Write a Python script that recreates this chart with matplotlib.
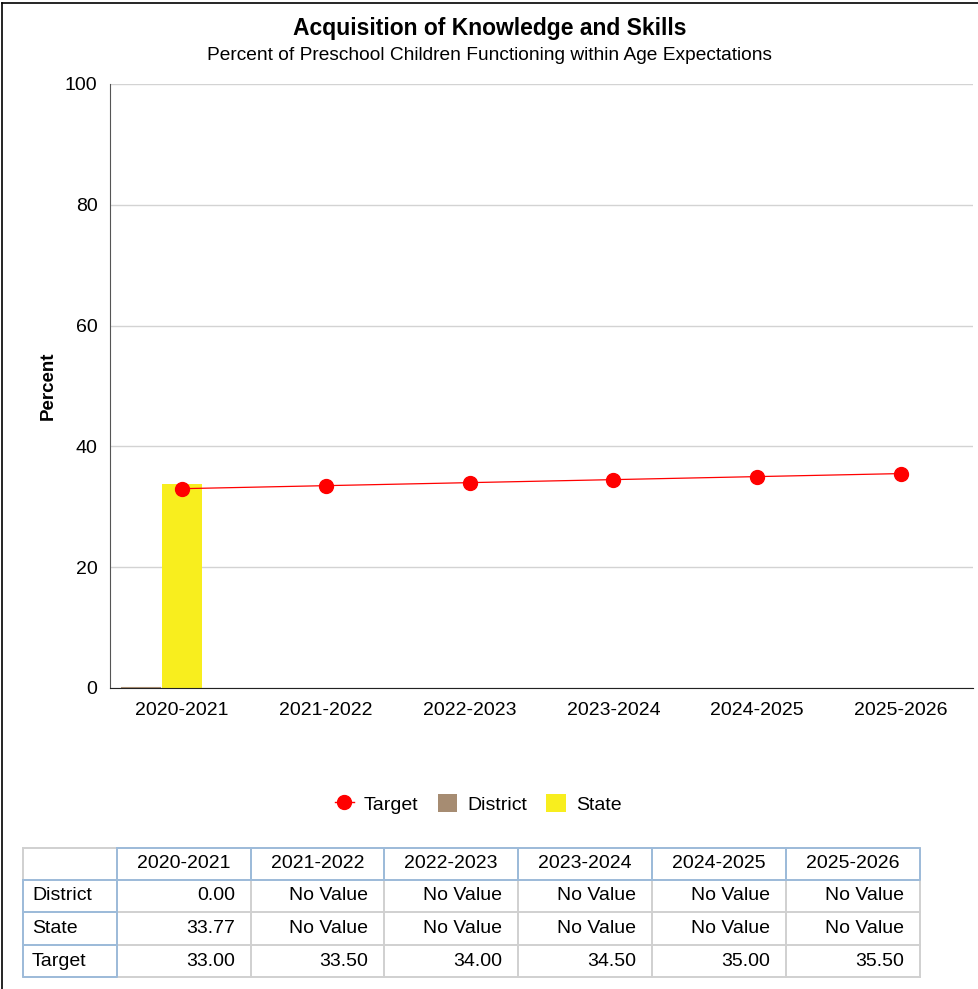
import numpy as np
import matplotlib
matplotlib.use('Agg')
import matplotlib.pyplot as plt
from matplotlib.lines import Line2D
from matplotlib.patches import Patch

plt.rcParams['font.family'] = ['Liberation Sans', 'DejaVu Sans']

# ---------------------------------------------------------
# DATA
# ---------------------------------------------------------
years = ["2020-2021", "2021-2022", "2022-2023", "2023-2024", "2024-2025", "2025-2026"]
district = [0.00, np.nan, np.nan, np.nan, np.nan, np.nan]
state = [33.77, np.nan, np.nan, np.nan, np.nan, np.nan]
target = [33.00, 33.50, 34.00, 34.50, 35.00, 35.50]
row_names = ["District", "State", "Target"]

TITLE = "Acquisition of Knowledge and Skills"
SUBTITLE = "Percent of Preschool Children Functioning within Age Expectations"

RED = "#FF0000"
BROWN = "#A68C72"
YELLOW = "#F8EE1E"
GRID = "#D3D3D3"
BLUE_EDGE = "#9DBBDA"
GRAY_EDGE = "#D0D0D0"

W, H = 979, 989
fig = plt.figure(figsize=(W / 100, H / 100), dpi=100)

# figure frame (left + top only)
fig.add_artist(Line2D([2.5 / W, 2.5 / W], [0, 1 - 2.5 / H], color="black", lw=1.2))
fig.add_artist(Line2D([2.5 / W, 1], [1 - 2.5 / H, 1 - 2.5 / H], color="black", lw=1.2))

fig.text(0.5, 1 - 28 / H, TITLE, ha="center", va="center", fontsize=16.5, fontweight="bold")
fig.text(0.5, 1 - 56 / H, SUBTITLE, ha="center", va="center", fontsize=13.8)

# ---------------------------------------------------------
# MAIN CHART
# ---------------------------------------------------------
ax = fig.add_axes([110 / W, 1 - 688 / H, 863 / W, 604 / H])
x = np.arange(len(years))
bw = 0.278
ax.bar(x - 0.285, district, width=bw, color=BROWN, edgecolor=BROWN, linewidth=1.5, zorder=3)
ax.bar(x, state, width=bw, color=YELLOW, linewidth=0, zorder=2)
ax.plot(x, target, color=RED, lw=0.9, marker="o", markersize=10, zorder=4)

ax.set_xlim(-0.5, len(years) - 0.5)
ax.set_ylim(0, 100)
ax.set_yticks([0, 20, 40, 60, 80, 100])
ax.set_xticks(x)
ax.set_xticklabels(years)
ax.tick_params(axis="both", length=0, labelsize=14)
ax.tick_params(axis="y", pad=9)
ax.tick_params(axis="x", pad=10)
ax.grid(axis="y", color=GRID, lw=1, zorder=0)
ax.set_axisbelow(True)
for s in ["top", "right"]:
    ax.spines[s].set_visible(False)
ax.spines["left"].set_color("#555555")
ax.spines["bottom"].set_color("#222222")
ax.set_ylabel("Percent", fontsize=13.5, fontweight="bold", labelpad=6)

# legend
handles = [
    Line2D([0], [0], color=RED, lw=1, marker="o", markersize=10),
    Patch(facecolor=BROWN, edgecolor="none"),
    Patch(facecolor=YELLOW, edgecolor="none"),
]
fig.legend(handles, ["Target", "District", "State"], loc="center",
           bbox_to_anchor=(478 / W, 1 - 804 / H), ncol=3, frameon=False,
           fontsize=14, handlelength=1.0, handleheight=1.0, handletextpad=0.5,
           columnspacing=1.0)

# ---------------------------------------------------------
# DATA TABLE
# ---------------------------------------------------------
tx0, ty0, tw, th = 23, 848, 897, 129
tax = fig.add_axes([tx0 / W, 1 - (ty0 + th) / H, tw / W, th / H])
tax.set_xlim(0, tw)
tax.set_ylim(th, 0)
tax.axis("off")

col_edges = [0, 94, 228, 361, 495, 629, 763, 897]
row_edges = [0, 32, 64, 97, 129]


def fmt(v):
    return "No Value" if np.isnan(v) else f"{v:.2f}"


rows = [district, state, target]

# gray grid
for xe in col_edges:
    tax.plot([xe, xe], [0, th], color=GRAY_EDGE, lw=1.4, clip_on=False)
for ye in row_edges:
    tax.plot([0, tw], [ye, ye], color=GRAY_EDGE, lw=1.4, clip_on=False)

# blue header cells and row-label cells
for c in range(1, len(col_edges) - 1):
    a, b = col_edges[c], col_edges[c + 1]
    tax.plot([a, b, b, a, a], [0, 0, 32, 32, 0], color=BLUE_EDGE, lw=1.4, clip_on=False)
for r in range(1, len(row_edges) - 1):
    a, b = row_edges[r], row_edges[r + 1]
    tax.plot([0, 94, 94, 0, 0], [a, a, b, b, a], color=BLUE_EDGE, lw=1.4, clip_on=False)

for c, yr in enumerate(years):
    cx = (col_edges[c + 1] + col_edges[c + 2]) / 2
    tax.text(cx, 16, yr, ha="center", va="center", fontsize=14)

for r, (name, vals) in enumerate(zip(row_names, rows)):
    cy = (row_edges[r + 1] + row_edges[r + 2]) / 2
    tax.text(col_edges[0] + 9, cy, name, ha="left", va="center", fontsize=14)
    for c, v in enumerate(vals):
        tax.text(col_edges[c + 2] - 16, cy, fmt(v), ha="right", va="center", fontsize=14)

fig.savefig("out.png", dpi=100)
